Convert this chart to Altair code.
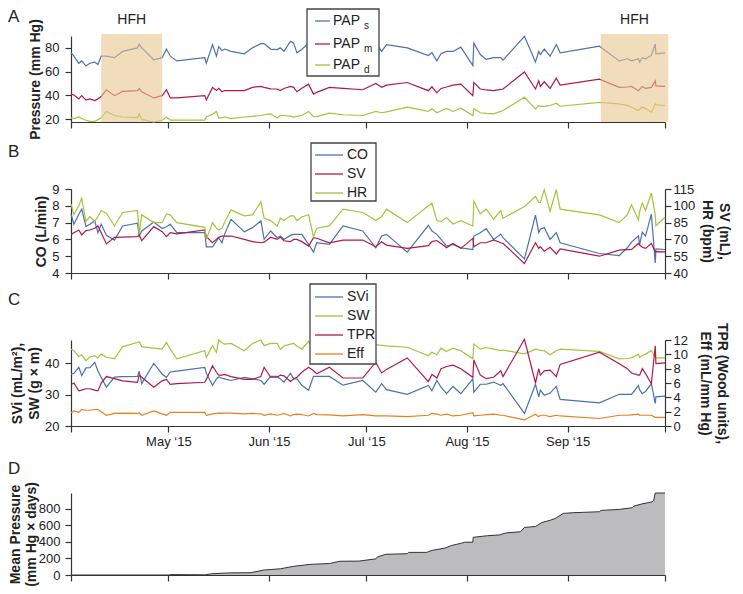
import altair as alt
import pandas as pd

START = "2015-04-01"

# measurement days (days after START), shared by panels A-C
DAYS = [0, 0.9, 2.4, 3.3, 4.6, 5.8, 7.3, 8.3, 9.3, 10.9,
        13.4, 15.9, 20.5, 21.0, 21.8, 25.5, 28.1, 29.4, 30.6, 32.6,
        41.2, 41.7, 43.6, 44.8, 45.5, 46.5, 47.3, 49.3, 53.4, 55.9,
        58.5, 59.5, 61.5, 63.5, 64.5, 65.6, 67.6, 68.6, 69.6, 71.1,
        73.2, 74.7, 75.7, 79.6, 83.8, 89.9, 93.9, 95.7, 97.2, 103.6,
        110.1, 111.2, 112.7, 114.0, 115.7, 117.7, 120.1, 123.8, 124.1, 126.1,
        127.9, 130.2, 132.4, 133.1, 139.7, 143.1, 144.1, 144.6, 145.8, 147.6,
        149.5, 150.7, 162.8, 168.9, 171.4, 172.7, 174.8, 175.2, 176.0, 177.0,
        178.8, 180.0, 180.2, 183.0]

PAP_S = [75.8, 73, 67, 69, 64.7, 67, 68, 66, 73, 73,
         71.7, 77, 80, 83, 80, 70, 71.7, 79, 73, 69,
         71.7, 67, 82.8, 73, 81, 77.8, 79, 77, 75, 80,
         83.6, 83.6, 79, 78.5, 80, 77, 85.5, 84, 75.8, 78.6,
         84, 74, 76, 80, 79, 78, 84, 77, 82.8, 80,
         73.6, 76, 69, 75, 77, 77, 80.6, 65, 84, 74.4,
         70.3, 71.7, 71.7, 69.7, 89.7, 68, 77, 74.4, 79, 73,
         82.8, 75.8, 81.4, 69, 70.8, 69, 70.8, 68, 71.7, 70.8,
         73.6, 83.3, 75, 75.8]

PAP_M = [41, 40.3, 37, 39.7, 36, 37, 35.6, 37, 39, 44.7,
         39.7, 43.3, 44, 45.8, 43, 37.8, 39.7, 44.7, 37.8, 37.8,
         39.7, 36, 46.7, 44, 45.8, 43, 44, 44, 44, 46.7,
         47.5, 46.7, 45.5, 45.3, 44, 45.8, 47.5, 46.7, 43, 46,
         49.4, 41, 42.5, 46.7, 45.8, 44.7, 50, 46.7, 48.6, 50.8,
         43.9, 47.2, 42, 45.8, 47, 48.6, 49.4, 39.7, 50.8, 45.3,
         44.5, 43.9, 45, 45.3, 59.7, 45.3, 52.2, 47.5, 51.4, 45.8,
         54.4, 48.6, 53.6, 46.7, 47, 47.5, 43.9, 45, 47.5, 45.8,
         46.7, 52.2, 48, 47.5]

PAP_D = [21, 20.3, 21.7, 20.5, 19, 18, 18, 19.5, 21, 26.4,
         23, 21.7, 21.2, 24.4, 19.7, 17.5, 19, 21.7, 19, 19,
         19, 21.7, 24, 26.4, 20.8, 21.2, 21.7, 20.3, 21.7, 22.3,
         23, 23.6, 24.4, 20.8, 23, 23, 22.5, 21.7, 22.3, 23,
         26.4, 22, 22, 25, 23.6, 23, 26.4, 25.3, 26, 30,
         26.4, 28.6, 25.3, 27, 29, 26.4, 29.2, 23, 28.6, 25.3,
         24.8, 24.4, 26.5, 27.2, 38.3, 28.6, 31.4, 30.6, 30.6, 31.4,
         33.3, 30.8, 34, 32.8, 31.5, 30, 27.2, 28, 30, 29,
         25.8, 32.8, 32, 31.4]

CO = [7.5, 6.9, 7.5, 7.8, 6.76, 6.9, 7.1, 6.4, 6.9, 6.24,
      5.96, 6.8, 6.96, 6.2, 6.5, 7.04, 6.65, 6.75, 6.9, 6.4,
      6.4, 5.56, 5.56, 5.9, 6.1, 5.8, 6.3, 7.2, 6.45, 6.7,
      7.1, 6.0, 6.5, 6.1, 6.2, 6.0, 6.24, 6.3, 6.3, 6.3,
      5.7, 5.24, 5.8, 5.7, 6.8, 6.5, 5.5, 6.2, 6.3, 5.24,
      6.84, 6.5, 6.3, 6.0, 5.6, 5.7, 5.5, 5.4, 6.2, 6.4,
      6.64, 6.0, 6.3, 6.1, 4.84, 7.44, 6.4, 6.6, 6.7, 6.0,
      6.4, 5.8, 5.16, 5.04, 5.5, 5.84, 6.2, 5.7, 6.44, 6.2,
      7.5, 4.6, 5.44, 5.4]

SV = [74.5, 76, 78.4, 74, 77.8, 78.4, 80, 82, 76, 66,
      71.8, 72, 72.4, 74, 68.8, 81.4, 76.9, 72.4, 76, 75,
      78.4, 72.4, 67, 70, 71.8, 73, 73, 73, 70, 68,
      67, 67.5, 72, 70, 72, 68.8, 68, 70, 70, 68,
      64, 71.5, 71, 67, 69.4, 69.4, 63.4, 67.9, 64.9, 62,
      64.5, 68, 69, 66.4, 62.5, 66.4, 62, 70.9, 63.4, 67,
      67, 69.5, 67, 66.5, 48.4, 67, 61.9, 63.5, 59.5, 63,
      57, 61.5, 55, 60.4, 60.8, 61, 66.4, 65, 63, 62,
      66.4, 58.9, 59, 58.9]

HR = [101.8, 92, 100, 106.9, 86, 90.4, 86, 90.4, 95.8, 93.4,
      82, 94, 95.8, 75.4, 91.9, 85, 85, 92.8, 91.9, 85,
      80.8, 70, 85, 80, 78.4, 79.9, 85, 96.4, 91, 91.9,
      103.5, 88.9, 86.8, 82, 88.9, 86.8, 91, 91, 86.8, 90,
      92, 72.4, 80, 82, 97, 94, 86.8, 90.4, 97, 85,
      100, 102.4, 86.8, 86, 89.5, 83.8, 86.8, 82, 104, 92.8,
      97, 88, 95.8, 88.9, 99.4, 108.4, 103, 103, 114.4, 95,
      114.4, 97, 91.9, 85, 92, 100.9, 87.4, 95, 102.4, 95.8,
      111.4, 91.9, 82, 89.8]

SVI = [36.4, 36.8, 38.7, 36.1, 38.5, 38.6, 40.3, 37.5, 35.5, 32.4,
       35.6, 35.7, 35.8, 37.5, 33.5, 40, 36.5, 35.5, 37.2, 37.5,
       38.7, 36.8, 33, 35, 35.6, 35.2, 35, 34.5, 35.5, 35,
       34.5, 33.3, 35.8, 35.8, 35, 34, 36.8, 35, 35, 33,
       31.4, 35.8, 35.8, 35.8, 33, 34.5, 30.8, 33.5, 31.6, 30.1,
       32.9, 31.2, 34.5, 32.4, 30.3, 32.6, 30.3, 35, 30.8, 33.3,
       33.3, 34, 33, 33.5, 24, 33.3, 29.3, 31.4, 29.8, 30.5,
       32.6, 28.5, 27.4, 30.1, 30.1, 30.1, 32.9, 31.5, 30.3, 31,
       33.5, 27.2, 29.3, 29.5]

SW = [44.5, 44, 42.1, 42.7, 40.8, 42, 42.4, 41.7, 42.9, 41.9,
      41.4, 45.3, 46.6, 46.9, 45.3, 44.8, 44.5, 46.6, 44.5, 41.4,
      44, 41.9, 45.6, 43.5, 47.4, 46.5, 46.1, 46.3, 44, 46.3,
      47.4, 45.6, 46.3, 46.3, 44.5, 45.5, 46.1, 46.3, 45.5, 44.5,
      47, 45, 46, 46, 46, 46, 45.9, 45.7, 45.5, 45.1,
      42.4, 43.5, 42.7, 44.8, 43.8, 44.8, 44, 41.4, 46.1, 44.5,
      45, 44.5, 44, 44.2, 43, 44.5, 44.3, 44.1, 44, 42.7,
      44, 44.5, 43.8, 41.4, 41.5, 41.7, 42.9, 41.9, 42.4, 42.9,
      44, 41.7, 41.7, 41.7]

TPR = [5.8, 6, 4.9, 5.0, 5.2, 5.2, 5.0, 4.9, 6.0, 6.9,
       6.6, 6.3, 6.1, 7.1, 6.8, 5.4, 6.3, 6.5, 5.8, 5.9,
       6.1, 6.5, 8.4, 7.5, 7.1, 7.1, 7.2, 6.9, 6.5, 6.5,
       6.9, 8.2, 6.8, 6.8, 7.1, 7.0, 6.2, 6.6, 6.8, 7.5,
       8.2, 7.7, 7.3, 8.2, 6.7, 6.7, 8.9, 7.4, 7.9, 9.5,
       6.2, 7.2, 6.7, 8, 8.3, 8.5, 8.0, 6.8, 9.2, 7.1,
       6.6, 6.8, 7.7, 6.9, 12.1, 6.0, 8, 7.1, 7.7, 7.8,
       6.9, 8.6, 10.3, 8.7, 8.0, 7.4, 7.1, 7.1, 8.0, 7.3,
       5.9, 11.2, 8.7, 8.8]

EFF = [1.85, 2.1, 1.9, 2.3, 2.2, 2.2, 2.3, 2.3, 2.0, 1.5,
       1.75, 1.8, 1.75, 1.85, 1.5, 2.1, 1.7, 1.5, 1.9, 1.9,
       1.9, 1.5, 1.7, 1.75, 1.8, 1.75, 1.8, 1.8, 1.7, 1.75,
       1.7, 1.5, 1.7, 1.5, 1.6, 1.75, 1.4, 1.6, 1.65, 1.6,
       1.4, 1.75, 1.6, 1.55, 1.4, 1.6, 1.4, 1.4, 1.4, 1.3,
       1.5, 1.75, 1.65, 1.5, 1.65, 1.4, 1.5, 1.85, 1.4, 1.5,
       1.6, 1.65, 1.5, 1.5, 0.85, 1.65, 1.3, 1.5, 1.5, 1.3,
       1.5, 1.4, 1.05, 1.5, 1.5, 1.55, 1.65, 1.5, 1.5, 1.5,
       1.5, 1.2, 1.2, 1.2]

# panel D: cumulative mean pressure burden
D_DAYS = [0, 30.1, 30.6, 41.2, 43.3, 48.3, 55.4, 59.5, 64.5, 68.6,
          73.6, 79.7, 82.8, 88.8, 93.9, 94.4, 97, 103.6, 104, 109.6,
          111.2, 115.2, 117.2, 120.3, 121.3, 123.8, 123.9, 128.4, 131.9, 133.9,
          138.5, 139.7, 143.1, 145.1, 147.6, 149.1, 151.7, 154.7, 162.8, 163.3,
          168.9, 172.9, 173.4, 176, 179, 179.5, 180, 183]
D_VALS = [0, 0, 5, 2, 15, 25, 28, 60, 75, 105,
          128, 139, 166, 168, 195, 218, 250, 257, 273, 273,
          297, 325, 356, 384, 396, 396, 455, 475, 483, 507,
          523, 574, 586, 634, 661, 681, 744, 752, 764, 780,
          792, 812, 832, 859, 883, 899, 990, 990]

# heart-failure hospitalisation periods
HFH_START = [9.3, 163.2]
HFH_END = [28.1, 184.0]
HFH_LABEL = ["HFH", "HFH"]

SERIES = ["PAPs", "PAPm", "PAPd", "CO", "SV", "HR", "SVi", "SW", "TPR", "Eff"]
BLUE, RED, GREEN, ORANGE = "#4a72b0", "#b0194b", "#a5c33b", "#e6811e"
COLORS = [BLUE, RED, GREEN, BLUE, RED, GREEN, BLUE, GREEN, RED, ORANGE]
TAN = "#e8c590"

FONT = "Liberation Sans"
INK = "#222222"
W = 594
HA, HB, HC, HD = 86, 84, 86, 82


def dates(days):
    return pd.Timestamp(START) + pd.to_timedelta(pd.Series(days, dtype=float), unit="D")


wide = pd.DataFrame({"date": dates(DAYS), "PAPs": PAP_S, "PAPm": PAP_M, "PAPd": PAP_D,
                     "CO": CO, "SV": SV, "HR": HR, "SVi": SVI, "SW": SW, "TPR": TPR, "Eff": EFF})


def long(cols):
    return wide.melt(id_vars="date", value_vars=cols, var_name="series", value_name="value")


bands = pd.DataFrame({"start": dates(HFH_START), "end": dates(HFH_END), "label": HFH_LABEL})
bands["mid"] = bands["start"] + (bands["end"] - bands["start"]) / 2
dfD = pd.DataFrame({"date": dates(D_DAYS), "value": D_VALS})

MONTHS = [alt.DateTime(year=2015, month=m, date=1) for m in range(4, 11)]
XDOM = [alt.DateTime(year=2015, month=4, date=1), alt.DateTime(year=2015, month=10, date=1)]
COLOR = alt.Color("series:N", scale=alt.Scale(domain=SERIES, range=COLORS), legend=None)


def xenc(field="date", labels=False):
    kw = dict(values=MONTHS, title=None, grid=False, tickSize=6, labels=labels)
    if labels:
        kw["labelExpr"] = ("month(datum.value) == 3 || month(datum.value) == 9 ? '' : "
                           "timeFormat(datum.value, '%b \u2018%y')")
        kw["labelPadding"] = 3
        kw["labelFontSize"] = 13
    return alt.X(f"{field}:T", scale=alt.Scale(domain=XDOM, nice=False), axis=alt.Axis(**kw))


def yenc(domain, values, title, orient="left", tpad=3, lh=17, lpad=None):
    kw = dict(orient=orient, values=values, title=title, titlePadding=tpad, grid=False,
              titleLineHeight=lh)
    if orient == "right":
        kw["labelPadding"] = 2
    if lpad is not None:
        kw["labelPadding"] = lpad
    return alt.Y("value:Q", scale=alt.Scale(domain=domain, nice=False, zero=False),
                 axis=alt.Axis(**kw))


ONE = pd.DataFrame({"k": [0]})


def box(x0, x1, y0, y1):
    return alt.Chart(ONE).mark_rect(fill="white", stroke="#444444", strokeWidth=1.3).encode(
        x=alt.value(x0), x2=alt.value(x1), y=alt.value(y0), y2=alt.value(y1))


def entry(y, color, text, x0, x1, tx, sub=None, subx=0):
    layers = [
        alt.Chart(ONE).mark_rule(color=color, strokeWidth=1.3).encode(
            x=alt.value(x0), x2=alt.value(x1), y=alt.value(y)),
        alt.Chart(ONE).mark_text(align="left", baseline="middle", font=FONT, fontSize=14,
                                 color=INK, text=text).encode(x=alt.value(tx), y=alt.value(y)),
    ]
    if sub:
        layers.append(alt.Chart(ONE).mark_text(align="left", baseline="middle", font=FONT,
                                               fontSize=10, color=INK, text=sub).encode(
            x=alt.value(subx), y=alt.value(y + 5)))
    return layers


def letter(t, y):
    return alt.Chart(ONE).mark_text(align="left", baseline="middle", font=FONT, fontSize=17,
                                    color=INK, text=t).encode(x=alt.value(-63), y=alt.value(y))


# ---- Panel A
linesA = alt.Chart(long(["PAPs", "PAPm", "PAPd"])).mark_line(strokeWidth=1.2).encode(
    x=xenc(), y=yenc([17.5, 90], [20, 40, 60, 80], "Pressure (mm Hg)", tpad=2), color=COLOR)
bandA = alt.Chart(bands).mark_rect(color=TAN, opacity=0.6).encode(
    x=xenc("start"), x2="end:T", y=alt.value(-2), y2=alt.value(HA))
hfhA = alt.Chart(bands).mark_text(font=FONT, fontSize=14, color=INK, baseline="middle").encode(
    x=xenc("mid"), y=alt.value(-16), text="label:N")
legA = [box(236, 308, -27, 40)]
for yy, col, sub in [(-15, BLUE, "s"), (8, RED, "m"), (29, GREEN, "d")]:
    legA += entry(yy, col, "PAP", 244, 259, 262, sub, 293)
A = alt.layer(linesA, bandA, hfhA, *legA, letter("A", -19)).properties(width=W, height=HA)

# ---- Panel B
coB = alt.Chart(long(["CO"])).mark_line(strokeWidth=1.2).encode(
    x=xenc(), y=yenc([4, 9], [4, 5, 6, 7, 8, 9], "CO (L/min)", tpad=3), color=COLOR)
svhrB = alt.Chart(long(["SV", "HR"])).mark_line(strokeWidth=1.2).encode(
    x=xenc(), y=yenc([40, 115], [40, 55, 70, 85, 100, 115], ["SV (mL),", "HR (bpm)"],
                     orient="right", tpad=5, lh=17), color=COLOR)
legB = [box(240, 305, -46, 12)]
for yy, col, t in [(-34, BLUE, "CO"), (-15, RED, "SV"), (4, GREEN, "HR")]:
    legB += entry(yy, col, t, 244, 272, 276)
B = alt.layer(coB, svhrB, *legB, letter("B", -37)).resolve_scale(y="independent").properties(
    width=W, height=HB)

# ---- Panel C
leftC = alt.Chart(long(["SVi", "SW"])).mark_line(strokeWidth=1.2).encode(
    x=xenc(labels=True), y=yenc([20, 47.4], [20, 30, 40], ["SVi (mL/m\u00b2),", "SW (g \u00d7 m)"],
                                 tpad=3, lh=17), color=COLOR)
rightC = alt.Chart(long(["TPR", "Eff"])).mark_line(strokeWidth=1.2).encode(
    x=xenc(labels=True), y=yenc([0, 12], [0, 2, 4, 6, 8, 10, 12],
                                 ["TPR (Wood units),", "Eff (mL/mm Hg)"],
                                 orient="right", tpad=10, lh=17), color=COLOR)
legC = [box(239, 305, -56, 24)]
for yy, col, t in [(-43, BLUE, "SVi"), (-24, GREEN, "SW"), (-5, RED, "TPR"), (14, ORANGE, "Eff")]:
    legC += entry(yy, col, t, 244, 272, 276)
C = alt.layer(leftC, rightC, *legC, letter("C", -40)).resolve_scale(y="independent").properties(
    width=W, height=HC)

# ---- Panel D
areaD = alt.Chart(dfD).mark_area(color="#a0a0a4", line={"color": "#333333", "strokeWidth": 1}).encode(
    x=xenc(), y=yenc([0, 990], [0, 200, 400, 600, 800], ["Mean Pressure", "(mm Hg \u00d7 days)"],
                     tpad=0, lh=16, lpad=5))
D = alt.layer(areaD, letter("D", -24)).properties(width=W, height=HD)

chart = alt.vconcat(A, B, C, D, spacing=67, bounds="flush").properties(
    padding={"left": 0, "top": 0, "right": 3, "bottom": 0}, background="white"
).configure_view(stroke=None).configure_axis(
    labelFont=FONT, labelFontSize=13, labelColor=INK, titleFont=FONT, titleFontSize=14,
    titleFontWeight="bold", titleColor=INK, domainColor="#333333", tickColor="#333333",
    domainWidth=1.2, tickWidth=1.2, grid=False, tickSize=6, labelPadding=6)

chart.save("out.html", embed_options={"renderer": "svg", "actions": False})
